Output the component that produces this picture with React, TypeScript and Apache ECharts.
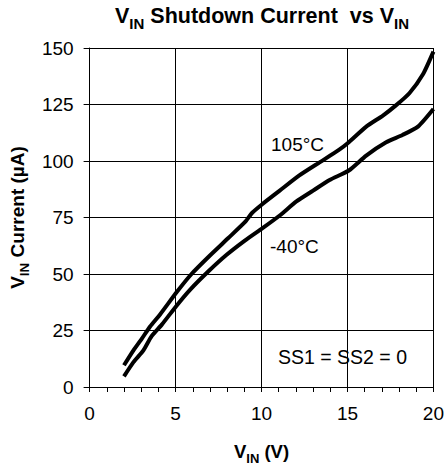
import React, { useEffect, useRef } from "react";
import * as echarts from "echarts";

const xHot = [2, 2.55, 3.04, 3.52, 4.1, 5.07, 5.94, 7.0, 8.07, 9.03, 9.46, 10.06, 11.06, 12.2, 13.4, 14.5, 15.08, 16.09, 17.06, 17.8, 18.6, 19.4, 20];
const yHot = [9.6, 16.2, 21.4, 26.8, 32.1, 42, 50.1, 58.2, 65.9, 72.9, 77.1, 81.0, 86.9, 93.6, 99.5, 104.9, 108.3, 115.2, 120.1, 124.5, 130, 138.5, 148.4];
const xCold = [2, 2.55, 3.13, 3.6, 4.2, 5.07, 5.84, 6.9, 7.97, 9.03, 10.06, 11.06, 12.03, 13.0, 13.96, 15.08, 16.09, 17.25, 18.2, 19.1, 20];
const yCold = [4.7, 11, 16.2, 22.4, 27.6, 36.1, 43, 51.1, 58.5, 64.8, 70.3, 75.9, 82.1, 86.9, 91.6, 95.8, 102.4, 108.3, 111.5, 115.2, 123];
const seriesNames = ["105°C", "-40°C"];

const FONT = "Liberation Sans, Arial, sans-serif";

const boldRich = (main: number, sub: number, lh: number) => ({
  a: { fontFamily: FONT, fontWeight: "bold", fontSize: main, color: "#000", lineHeight: lh, verticalAlign: "bottom" },
  s: { fontFamily: FONT, fontWeight: "bold", fontSize: sub, color: "#000", lineHeight: lh, verticalAlign: "bottom", padding: [0, 0, -4, 0] },
});

export default function App() {
  const ref = useRef<HTMLDivElement>(null);
  useEffect(() => {
    if (!ref.current) return;
    const chart = echarts.init(ref.current, undefined, { renderer: "svg" });
    const hot = xHot.map((x, i) => [x, yHot[i]]);
    const cold = xCold.map((x, i) => [x, yCold[i]]);
    chart.setOption({
      animation: false,
      backgroundColor: "#fff",
      textStyle: { fontFamily: FONT },
      title: {
        text: "{a|V}{s|IN}{a| Shutdown Current  vs V}{s|IN}",
        left: 262,
        textAlign: "center",
        top: 1,
        padding: 0,
        textStyle: { rich: boldRich(21.5, 15, 26) },
      },
      grid: { left: 89, right: 13, top: 48, bottom: 83 },
      xAxis: {
        type: "value",
        min: 0,
        max: 20,
        interval: 5,
        name: "{a|V}{s|IN}{a| (V)}",
        nameLocation: "middle",
        nameGap: 52,
        nameTextStyle: { rich: boldRich(18.5, 13, 22) },
        axisLine: { lineStyle: { color: "#000", width: 1 } },
        axisTick: { show: true, length: 5, lineStyle: { color: "#000" } },
        minorTick: { show: true, splitNumber: 5, length: 5, lineStyle: { color: "#000" } },
        axisLabel: { color: "#000", fontSize: 19, fontFamily: FONT, margin: 17 },
        splitLine: { show: true, lineStyle: { color: "#000", width: 1 } },
      },
      yAxis: {
        type: "value",
        min: 0,
        max: 150,
        interval: 25,
        name: "{a|V}{s|IN}{a| Current (µA)}",
        nameLocation: "middle",
        nameRotate: 90,
        nameGap: 62,
        nameTextStyle: { rich: boldRich(19, 13.5, 22) },
        axisLine: { show: true, lineStyle: { color: "#000", width: 1 } },
        axisTick: { show: true, length: 6, lineStyle: { color: "#000" } },
        axisLabel: { color: "#000", fontSize: 19, fontFamily: FONT, margin: 16 },
        splitLine: { show: true, lineStyle: { color: "#000", width: 1 } },
      },
      series: [
        {
          name: seriesNames[0],
          type: "line",
          data: hot,
          showSymbol: false,
          smooth: 0.2,
          lineStyle: { color: "#000", width: 4 },
          z: 5,
        },
        {
          name: seriesNames[1],
          type: "line",
          data: cold,
          showSymbol: false,
          smooth: 0.2,
          lineStyle: { color: "#000", width: 4 },
          z: 5,
        },
      ],
      graphic: [
        { type: "text", left: 271, top: 135, z: 10, style: { text: "105°C", fontSize: 19, fontFamily: FONT, fill: "#000" } },
        { type: "text", left: 270, top: 237, z: 10, style: { text: "-40°C", fontSize: 19, fontFamily: FONT, fill: "#000" } },
        { type: "text", left: 278, top: 347, z: 10, style: { text: "SS1 = SS2 = 0", fontSize: 19.5, fontFamily: FONT, fill: "#000" } },
      ],
    });
    return () => chart.dispose();
  }, []);
  return <div ref={ref} style={{ width: 447, height: 470, position: "absolute", left: 0, top: 0 }} />;
}
